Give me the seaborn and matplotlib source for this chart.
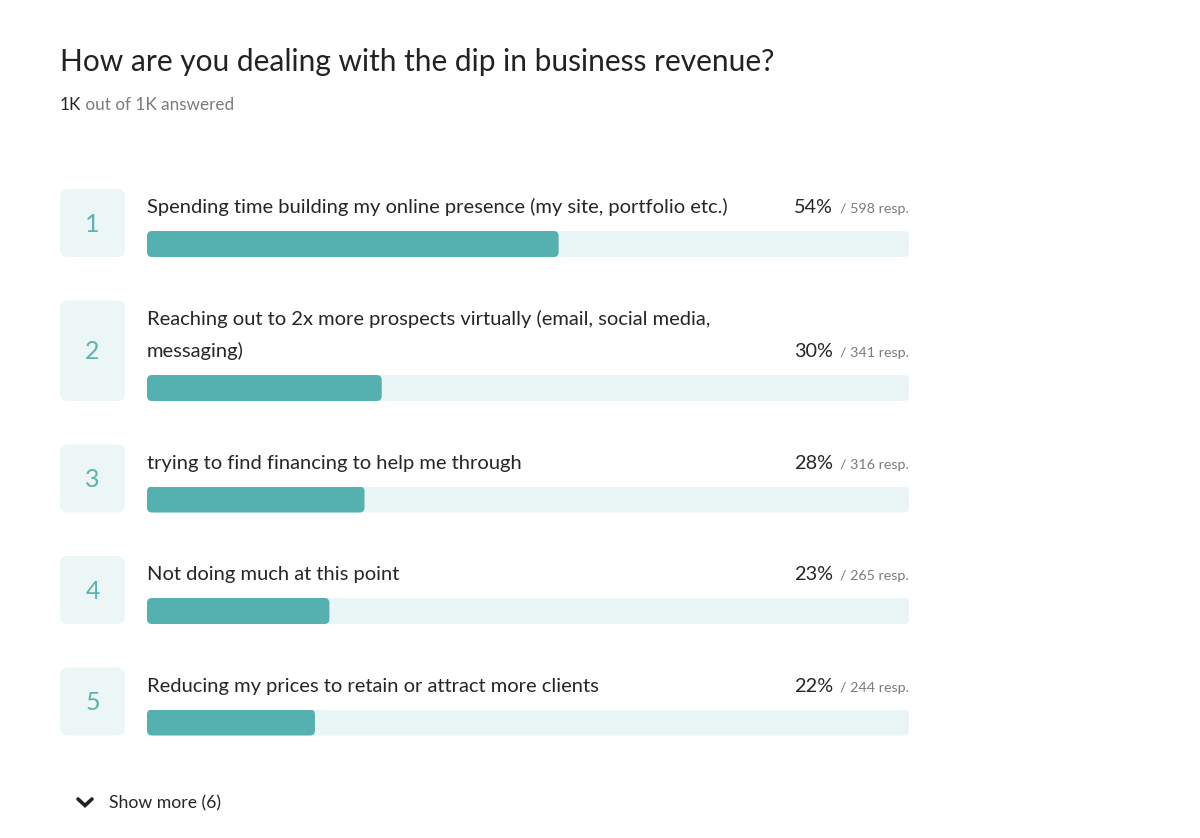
import numpy as np
import pandas as pd
import seaborn as sns
import matplotlib.pyplot as plt
from matplotlib.patches import FancyBboxPatch

title = "How are you dealing with the dip in business revenue?"
answered = "1K"
total = "1K"
respondents = 1107  # estimated; bar fill = responses / respondents
options = [
    "Spending time building my online presence (my site, portfolio etc.)",
    "Reaching out to 2x more prospects virtually (email, social media,\nmessaging)",
    "trying to find financing to help me through",
    "Not doing much at this point",
    "Reducing my prices to retain or attract more clients",
]
pcts = [54, 30, 28, 23, 22]
counts = [598, 341, 316, 265, 244]
hidden = 6

W, H = 1200, 838
TEAL = "#55b1b0"
NUM = "#5ab3b2"
TRACK = "#eaf5f6"
BOX = "#edf6f7"
DARK = "#262626"
GRAY = "#7b7b7b"

sns.set_theme(style="white")
plt.rcParams["font.family"] = ["Lato", "DejaVu Sans"]

fig = plt.figure(figsize=(W / 100, H / 100), dpi=100)
fig.patch.set_facecolor("white")

# overlay axes in pixel coords for the card decoration / text
bg = fig.add_axes([0, 0, 1, 1])
bg.set_xlim(0, W)
bg.set_ylim(H, 0)
bg.axis("off")

bg.text(60, 71, title, fontsize=21.5, color="#222222", va="baseline", ha="left")
t1 = bg.text(60, 110, answered, fontsize=12.3, color=DARK, va="baseline", ha="left")
bg.annotate(f" out of {total} answered", xy=(1, 110), xycoords=(t1, "data"),
            fontsize=12.3, color=GRAY, va="baseline", ha="left")

BAR_X, BAR_W, BAR_H = 147, 762, 26
LINE = 32.5
top = 189

for i, (label, pct, n) in enumerate(zip(options, pcts, counts)):
    lines = label.count("\n") + 1
    box_h = 68 + LINE * (lines - 1)

    # number tile
    bg.add_patch(FancyBboxPatch((60, top), 65, box_h,
                                boxstyle="round,pad=0,rounding_size=8",
                                fc=BOX, ec="none"))
    bg.text(92.5, top + box_h / 2 + 1, str(i + 1), fontsize=18, color=NUM,
            ha="center", va="center")

    # label lines
    for j, ln in enumerate(label.split("\n")):
        bg.text(BAR_X, top + 24 + LINE * j, ln, fontsize=14.5, color=DARK,
                va="baseline", ha="left")

    base = top + 24 + LINE * (lines - 1)
    tr = bg.text(BAR_X + BAR_W, base, f"/ {n} resp.", fontsize=10.3,
                 color=GRAY, va="baseline", ha="right")
    bg.annotate(f"{pct}%", xy=(0, base), xycoords=(tr, "data"),
                xytext=(-5, 0), textcoords="offset points",
                fontsize=14.3, color=DARK, va="baseline", ha="right")

    # progress bar
    bar_top = top + box_h - BAR_H
    ax = fig.add_axes([BAR_X / W, 1 - (bar_top + BAR_H) / H, BAR_W / W, BAR_H / H])
    sns.barplot(x=[100], y=[label], orient="h", color=TRACK, width=1,
                saturation=1, ax=ax)
    sns.barplot(x=[n / respondents * 100], y=[label], orient="h", color=TEAL,
                width=1, saturation=1, ax=ax)
    ax.set_xlim(0, 100)
    ax.set_ylim(0.5, -0.5)
    ax.axis("off")

    # round the bar corners
    asp = (1 / BAR_H) / (100 / BAR_W)
    r = 5 * 100 / BAR_W
    for p in list(ax.patches):
        x0, y0, w, h = p.get_x(), p.get_y(), p.get_width(), p.get_height()
        fc = p.get_facecolor()
        p.remove()
        ax.add_patch(FancyBboxPatch((x0, y0), w, h,
                                    boxstyle=f"round,pad=0,rounding_size={r}",
                                    mutation_aspect=asp, fc=fc, ec="none"))

    top = top + box_h + 43.5

# show more
bg.plot([78, 85, 92], [799, 805.5, 799], color="#222222", lw=2.6,
        solid_capstyle="round", solid_joinstyle="miter")
bg.text(109, 808, f"Show more ({hidden})", fontsize=12.7, color=DARK,
        va="baseline", ha="left")

fig.savefig("out.png", dpi=100, facecolor="white")
